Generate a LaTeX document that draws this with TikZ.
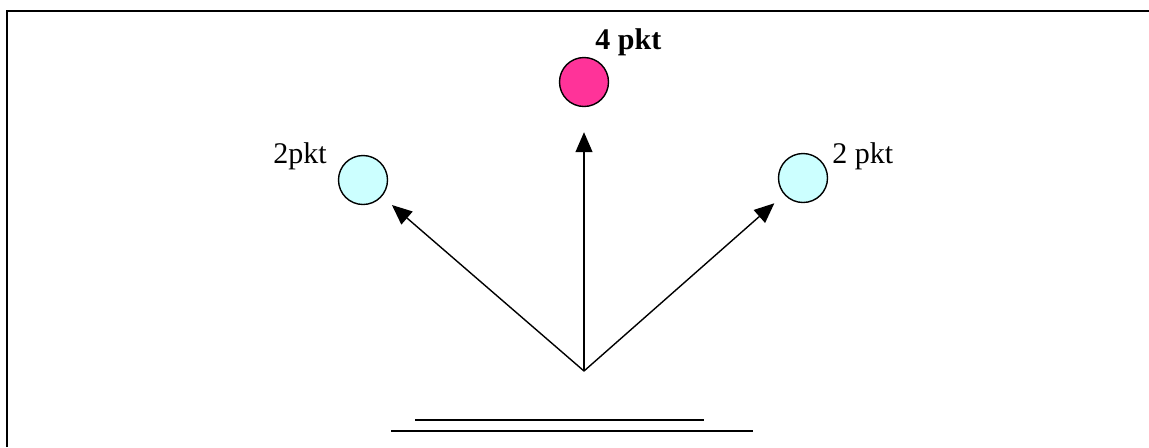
\documentclass[tikz,border=0pt]{standalone}
\usepackage{xcolor}
\usepackage{fontspec}
\setmainfont{Liberation Serif}
\usepackage{tikz}
\usetikzlibrary{shapes.geometric, arrows.meta}

\definecolor{pktpink}{HTML}{FF3399}
\definecolor{pktcyan}{HTML}{CCFFFF}

\begin{document}
\begin{tikzpicture}[x=0.5pt, y=-0.5pt, font=\fontsize{15}{18}\selectfont]
	\tikzstyle{packet} = [circle, minimum size=24.5pt, inner sep=0pt, draw=black, line width=0.7pt]
	
	\tikzstyle{label} = [anchor=base west, inner sep=0pt]
	
	\tikzstyle{arrow} = [-{Triangle[length=10pt, width=8.5pt]}, line width=0.7pt]
	
	\useasboundingbox (0,0) rectangle (1149,447);
	
	% Frame
	\draw [line width=0.9pt] (7,447) -- (7,11) -- (1149,11);
	
	% Packets
	\node (top) [packet, fill=pktpink] at (584,82) {};
	\node (left) [packet, fill=pktcyan] at (363,180) {};
	\node (right) [packet, fill=pktcyan] at (803,178) {};
	
	% Labels
	\node (ltop) [label, font=\fontsize{15}{18}\selectfont\bfseries] at (595,49) {4 pkt};
	\node (lleft) [label] at (273,163) {2pkt};
	\node (lright) [label] at (832,163) {2 pkt};
	
	% Source
	\coordinate (src) at (584,371);
	
	% Arrows
	\draw [arrow, shorten >=6.5pt] (src) -- (left);
	\draw [arrow, shorten >=12.5pt] (src) -- (top);
	\draw [arrow, shorten >=6.5pt] (src) -- (right);
	
	% Ground lines
	\coordinate (g1) at (415,420);
	\coordinate (g2) at (704,420);
	\coordinate (g3) at (391,431);
	\coordinate (g4) at (753,431);
	\draw [line width=0.8pt] (g1) -- (g2);
	\draw [line width=0.8pt] (g3) -- (g4);
\end{tikzpicture}
\end{document}
